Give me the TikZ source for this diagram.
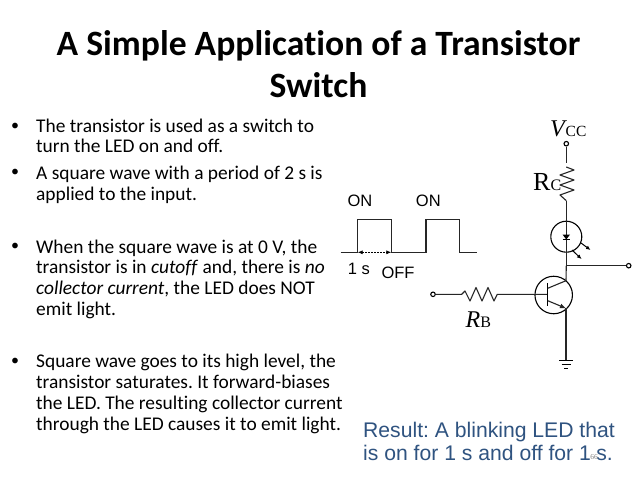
\documentclass[tikz,border=0pt]{standalone}
\usepackage{fontspec}
\setmainfont{Carlito}[RawFeature={-liga}]
\newfontfamily\arialf{Liberation Sans}
\newfontfamily\timesf{Liberation Serif}
\usetikzlibrary{arrows.meta}
\definecolor{resultblue}{HTML}{2F5380}
\frenchspacing
\tikzset{
  titletext/.style={anchor=base,font=\fontsize{35.6}{35.6}\selectfont\bfseries,text=black,inner sep=0},
  bodytext/.style={anchor=base west,font=\fontsize{19.4}{19.4}\selectfont,inner sep=0},
  bullettext/.style={anchor=base,font=\fontsize{16}{16}\selectfont,inner sep=0},
  wavelabel/.style={anchor=center,font=\arialf\fontsize{16.5}{16.5}\selectfont,inner sep=0},
  resulttext/.style={anchor=base west,font=\arialf\fontsize{21.15}{21.15}\selectfont,text=resultblue,inner sep=0},
  circuitlabel/.style={anchor=base west,font=\timesf\fontsize{24}{24}\selectfont,inner sep=0},
  wire/.style={line width=1.1pt,black!85,line join=round},
  terminal/.style={circle,draw=black,line width=1.1pt,fill=white,minimum size=4.5pt,inner sep=0},
  waveline/.style={line width=1.1pt,black!85},
  arrowhead/.style={-{Latex[length=4.5pt,width=4pt]}},
}
\begin{document}
\begin{tikzpicture}[x=1pt,y=-1pt]
\useasboundingbox (0,0) rectangle (638,479);
\fill[white] (0,0) rectangle (638,479);
% title
\node[titletext] (t1) at (318.5,55) {A Simple Application of a Transistor};
\node[titletext] (t2) at (318.5,97) {Switch};
% bullets
\foreach \n/\y in {b1/130.5,b2/176.5,b3/250.5,b4/365}
  \node[bullettext] (\n) at (15,\y) {•};
\node[bodytext] (l1) at (36,132.2) {The transistor is used as a switch to};
\node[bodytext] (l2) at (36,152.8) {turn the LED on and off.};
\node[bodytext] (l3) at (36,179.5) {A square wave with a period of 2 s is};
\node[bodytext] (l4) at (36,200.5) {applied to the input.};
\node[bodytext] (l5) at (36,253) {When the square wave is at 0 V, the};
\node[bodytext] (l6) at (36,273.7) {transistor is in \textit{cutoff} and, there is \textit{no}};
\node[bodytext] (l7) at (36,294.5) {\textit{collector current}, the LED does NOT};
\node[bodytext] (l8) at (36,315.2) {emit light.};
\node[bodytext] (l9) at (36,367.5) {Square wave goes to its high level, the};
\node[bodytext] (l10) at (36,388.5) {transistor saturates. It forward-biases};
\node[bodytext] (l11) at (36,409.2) {the LED. The resulting collector current};
\node[bodytext] (l12) at (36,430.2) {through the LED causes it to emit light.};
% square wave
\coordinate (w0) at (340.7,252.3);
\coordinate (w1) at (357.7,252.3);
\coordinate (w2) at (391.3,252.3);
\draw[waveline] (w0) -- (w1) -- (357.7,219.3) -- (391.3,219.3) -- (w2) -- (426,252.3) -- (426,219.3) -- (459.3,219.3) -- (459.3,252.3) -- (477.3,252.3);
\draw[line width=.7pt,dash pattern=on 2pt off 1pt,{Latex[length=5pt,width=4pt]}-{Latex[length=5pt,width=4pt]}] (w1) -- (w2);
\node[wavelabel] (on1) at (360,201) {ON};
\node[wavelabel] (on2) at (428.3,201) {ON};
\node[wavelabel] (ones) at (359,268.5) {1 s};
\node[wavelabel] (off) at (398,272.5) {OFF};
% circuit
\node[terminal] (vcc) at (566.3,143.7) {};
\draw[wire] (vcc) -- (566.3,163);
\draw[wire] (566.3,167) -- (574,170) -- (560,175) -- (574,180) -- (560,185) -- (574,190) -- (560,195) -- (566.3,200.7);
\node[circle,draw=black,line width=1.1pt,minimum size=31pt,inner sep=0] (led) at (566.3,236.7) {};
\coordinate (jn) at (566.3,265.7);
\draw[wire] (566.3,200.7) -- (jn);
\fill[black] (562.5,234.5) -- (570,234.5) -- (566.3,239.5) -- cycle;
\draw[line width=1.1pt] (562.5,239.5) -- (570,239.5);
\draw[line width=1pt,arrowhead] (581,243) -- (590.5,250);
\draw[line width=1pt,arrowhead] (572,250) -- (581.5,259);
\node[terminal] (out) at (628.7,265.7) {};
\draw[wire] (jn) -- (out);
% transistor
\node[circle,draw=black,line width=1.1pt,minimum size=37.5pt,inner sep=0] (q) at (553.7,295) {};
\node[terminal] (in) at (433,294.3) {};
\coordinate (basebar) at (547.7,294.3);
\draw[wire] (in) -- (461.7,294.3) -- (465,291) -- (470,301) -- (476,287.5) -- (482,301) -- (488,287.5) -- (494,301) -- (497.3,294.3) -- (basebar);
\draw[line width=1.3pt] (547.7,283.3) -- (547.7,306);
\draw[wire] (547.7,288.3) -- (566,280.7) -- (jn);
\draw[wire,-{Latex[length=6pt,width=5pt]}] (547.7,300.7) -- (566,308.3);
\coordinate (gnd) at (566,360);
\draw[wire] (566,308) -- (gnd);
\draw[line width=.9pt] (559,360) -- (573,360);
\draw[line width=.9pt] (561.5,364) -- (570.5,364);
\draw[line width=.9pt] (564,368) -- (568,368);
% labels
\node[circuitlabel] (vl) at (550,136) {\textit{V}\kern-1.5pt{\fontsize{15.5}{15.5}\selectfont CC}};
\node[circuitlabel] (rcl) at (533,190) {\fontsize{26}{26}\selectfont R{\fontsize{16}{16}\selectfont C}};
\node[circuitlabel] (rbl) at (465.5,327) {\textit{R}{\fontsize{16}{16}\selectfont B}};
% result
\node[resulttext] (r1) at (363,437) {Result: A blinking LED that};
\node[resulttext] (r2) at (363,460) {is on for 1 s and off for 1};
\node[resulttext,anchor=base east] (r3) at (613,460) {s.};
\node[anchor=base,font=\timesf\fontsize{7.5}{7.5}\selectfont,text=black!50,inner sep=0] (pg) at (594,459) {66};
\end{tikzpicture}
\end{document}
